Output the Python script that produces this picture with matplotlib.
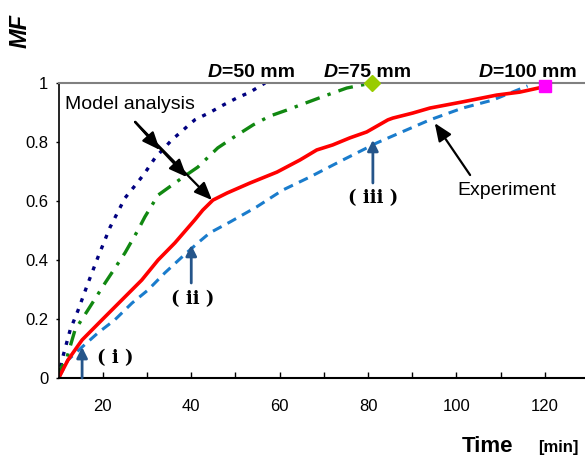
import numpy as np
import matplotlib
matplotlib.use('Agg')
import matplotlib.pyplot as plt

plt.rcParams['font.family'] = ['Liberation Sans', 'DejaVu Sans']

# D=50 mm model (navy dotted)
t50 = [10, 10.75, 12.6, 14.4, 16.6, 18.9, 21.6, 25.0, 27.7, 29.5, 31.8, 35.6, 40.8, 44.2, 47.2, 50.3, 53.3, 56.7]
mf50 = [0, 0.061, 0.163, 0.23, 0.32, 0.41, 0.51, 0.61, 0.66, 0.695, 0.746, 0.807, 0.875, 0.90, 0.925, 0.949, 0.969, 1.0]

# D=75 mm model (green dash-dot)
t75 = [10, 10.3, 11.9, 13.7, 16.6, 20.5, 25.0, 27.9, 29.5, 32.5, 37.9, 41.5, 46.0, 49.4, 54.0, 57.8, 61.6, 64.6, 70.7, 75.2, 80.9]
mf75 = [0, 0.027, 0.071, 0.163, 0.23, 0.322, 0.424, 0.50, 0.546, 0.62, 0.678, 0.715, 0.78, 0.814, 0.858, 0.888, 0.908, 0.925, 0.959, 0.983, 1.0]

# D=100 mm model (red)
t100 = [10, 12.1, 15.3, 19.8, 25.0, 28.8, 32.5, 36.3, 40.8, 42.6, 44.9, 48.1, 53.3, 59.4, 64.6, 68.4, 72.0, 75.9, 79.7,
        84.5, 85.6, 90.1, 94.0, 101.4, 109.1, 114.3, 119.5]
mf100 = [0, 0.061, 0.129, 0.197, 0.275, 0.332, 0.40, 0.458, 0.536, 0.569, 0.603, 0.627, 0.661, 0.698, 0.739, 0.773, 0.79,
         0.814, 0.834, 0.875, 0.881, 0.898, 0.915, 0.936, 0.959, 0.969, 0.986]

# experiment (blue dashed)
t_exp = [10, 12.1, 15.3, 18.9, 22.7, 26.6, 30.2, 34.0, 37.9, 41.5, 44.2, 48.8, 54.8, 60.7, 66.8, 74.3, 82.0, 87.2, 94.0,
         101.4, 108.2, 116.1]
mf_exp = [0, 0.061, 0.105, 0.153, 0.197, 0.254, 0.298, 0.356, 0.41, 0.458, 0.492, 0.529, 0.58, 0.637, 0.681, 0.739, 0.797,
          0.831, 0.875, 0.915, 0.942, 0.99]

# end points of the models
end_t = [80.9, 120]
end_mf = [1.0, 0.99]

d_labels = ['=50 mm', '=75 mm', '=100 mm']
d_label_x = [46.9, 73.2, 108.3]

stage_labels = ['( ⅰ )', '( ⅱ )', '( ⅲ )']
stage_t = [15.3, 40, 81.1]
stage_base = [0.0, 0.322, 0.661]
stage_tip = [0.105, 0.451, 0.807]
stage_text_xy = [(22.7, 0.068), (40.4, 0.268), (81.1, 0.61)]

fig = plt.figure(figsize=(5.85, 4.57), dpi=100)
ax = fig.add_axes([0.1003, 0.1729, 0.8997, 0.6455])

ax.plot(t50, mf50, color='#000080', lw=2.4, dashes=(1.2, 2.2))
ax.plot(t75, mf75, color='#118811', lw=2.4, dashes=(4.5, 2.5, 1, 2.5))
ax.plot(t_exp, mf_exp, color='#1a7ccc', lw=2.2, dashes=(3.2, 2.2))
ax.plot(t100, mf100, color='#ff0000', lw=2.6, solid_joinstyle='round')
ax.plot(end_t[0], end_mf[0], marker='D', ms=8, color='#99cc00', mec='#99cc00', clip_on=False, zorder=5)
ax.plot(end_t[1], end_mf[1], marker='s', ms=9, color='#ff00ff', mec='#ff00ff', clip_on=False, zorder=5)

ax.set_xlim(10, 129.1)
ax.set_ylim(0, 1)
ax.set_xticks(np.arange(20, 130, 10))
ax.set_xticklabels(['20', '', '40', '', '60', '', '80', '', '100', '', '120'])
ax.set_yticks([0, 0.2, 0.4, 0.6, 0.8, 1])
ax.set_yticklabels(['0', '0.2', '0.4', '0.6', '0.8', '1'])
ax.tick_params(axis='x', direction='in', length=4.5, width=1, pad=15, labelsize=12)
ax.tick_params(axis='y', direction='out', length=2.5, width=1, pad=5, labelsize=12)

ax.spines['right'].set_visible(False)
ax.spines['top'].set_color('#808080')
ax.spines['top'].set_linewidth(1.5)
ax.spines['left'].set_linewidth(1.2)
ax.spines['bottom'].set_linewidth(1.5)

# axis titles
fig.text(20 / 585, 1 - 31 / 457, 'MF', rotation=90, fontsize=17, fontweight='bold', fontstyle='italic',
         ha='center', va='center')
fig.text(462 / 585, 1 - 452 / 457, 'Time', fontsize=16, fontweight='bold', ha='left', va='baseline')
fig.text(538 / 585, 1 - 452 / 457, '[min]', fontsize=12, fontweight='bold', ha='left', va='baseline')

# D labels above the plot
for lab, xs in zip(d_labels, d_label_x):
    ax.text(xs, 1.022, 'D', fontsize=14, fontweight='bold', fontstyle='italic', ha='right', va='baseline', clip_on=False)
    ax.text(xs, 1.022, lab, fontsize=14, fontweight='bold', ha='left', va='baseline', clip_on=False)

# model analysis arrows
arr = dict(arrowstyle='-|>,head_length=0.6,head_width=0.25', color='black', lw=1.6, mutation_scale=18,
           shrinkA=0, shrinkB=0)
ax.text(11.5, 0.927, 'Model analysis', fontsize=14, ha='left', va='center')
for tip in [(32.9, 0.773), (39.0, 0.681), (44.7, 0.603)]:
    ax.annotate('', xy=tip, xytext=(27.3, 0.868), arrowprops=arr)

ax.annotate('', xy=(95.1, 0.864), xytext=(103.1, 0.688), arrowprops=arr)
ax.text(111.4, 0.637, 'Experiment', fontsize=14, ha='center', va='center')

# stage arrows
blue_arr = dict(arrowstyle='-|>', color='#25558a', lw=2, mutation_scale=16, shrinkA=0, shrinkB=0)
for lab, t, y0, y1, txy in zip(stage_labels, stage_t, stage_base, stage_tip, stage_text_xy):
    ax.annotate('', xy=(t, y1), xytext=(t, y0), arrowprops=blue_arr, annotation_clip=False)
    ax.text(txy[0], txy[1], lab, fontsize=13, fontweight='bold', ha='center', va='center',
            family=['DejaVu Serif', 'Noto Sans CJK JP'])

plt.savefig('out.png', dpi=100)
